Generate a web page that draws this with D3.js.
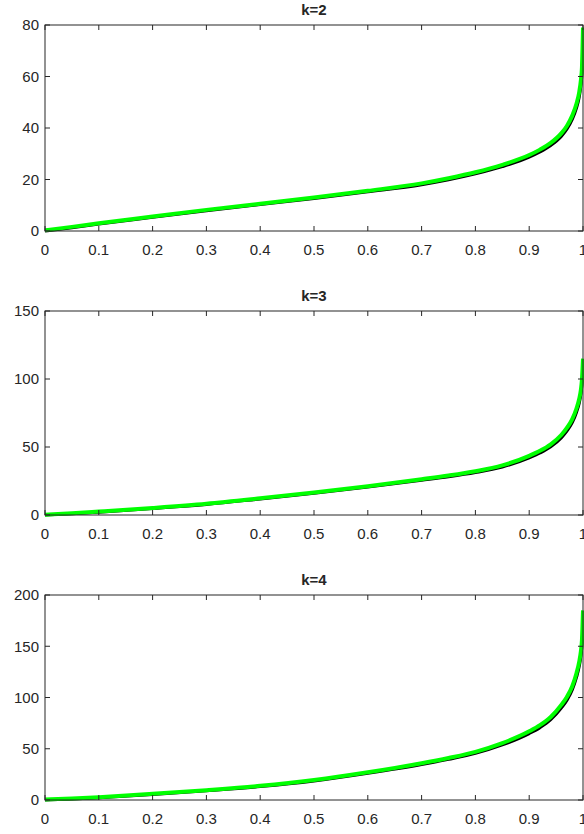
<!DOCTYPE html>
<html lang="en">

<head>
    <meta charset="UTF-8">
    <title>k=2, k=3, k=4</title>
    <script src="https://d3js.org/d3.v7.min.js"></script>
    <style>
        body {
            margin: 0;
            background: #fff;
        }

        text {
            font-family: "Liberation Sans", Arial, sans-serif;
            fill: #262626;
        }
    </style>
</head>

<body>
    <script>
        // x positions shared by all curves
        const xs = [0, 0.05, 0.1, 0.2, 0.3, 0.4, 0.5, 0.6, 0.7, 0.75, 0.8, 0.85, 0.9, 0.92, 0.94, 0.96, 0.97, 0.98, 0.988, 0.993, 0.996, 0.998, 1];

        // k=2
        const green2 = [0.3, 1.6, 3.0, 5.6, 8.2, 10.6, 13.0, 15.6, 18.5, 20.5, 22.8, 25.7, 29.5, 31.6, 34.2, 38.0, 40.8, 44.8, 49.5, 54.0, 58.5, 63.5, 79.0];
        const black2 = [0.0, 1.3, 2.7, 5.3, 7.9, 10.3, 12.6, 15.2, 18.0, 19.9, 22.2, 25.0, 28.7, 30.7, 33.2, 36.8, 39.5, 43.3, 47.8, 52.0, 56.3, 61.0, 72.0];
        // k=3
        const green3 = [0.2, 1.2, 2.5, 5.2, 8.3, 12.3, 16.6, 21.2, 26.3, 29.0, 32.2, 36.5, 43.5, 47.2, 52.0, 59.0, 64.0, 70.5, 78.5, 85.5, 92.0, 99.5, 115.0];
        const black3 = [0.0, 0.9, 2.1, 4.8, 7.8, 11.8, 16.0, 20.5, 25.5, 28.1, 31.2, 35.3, 42.0, 45.6, 50.2, 56.9, 61.7, 67.9, 75.6, 82.3, 88.5, 95.6, 108.0];
        // k=4
        const green4 = [0.5, 1.5, 2.8, 6.0, 9.6, 13.8, 19.5, 27.0, 35.8, 41.0, 47.0, 55.5, 67.0, 73.0, 81.0, 93.0, 100.5, 111.0, 124.0, 135.0, 145.0, 156.0, 185.0];
        const black4 = [0.0, 1.0, 2.3, 5.4, 9.0, 13.1, 18.6, 26.0, 34.6, 39.7, 45.5, 53.7, 64.8, 70.6, 78.3, 89.9, 97.2, 107.3, 119.8, 130.4, 140.0, 150.5, 172.0];

        const titles = ["k=2", "k=3", "k=4"];
        const yMax = [80, 150, 200];
        const yTicks = [[0, 20, 40, 60, 80], [0, 50, 100, 150], [0, 50, 100, 150, 200]];
        const xTicks = [0, 0.1, 0.2, 0.3, 0.4, 0.5, 0.6, 0.7, 0.8, 0.9, 1];
        const greens = [green2, green3, green4];
        const blacks = [black2, black3, black4];

        const W = 584, H = 834;
        const left = 45, right = 583;
        const panels = [
            { top: 25, bottom: 231 },
            { top: 311, bottom: 515 },
            { top: 595, bottom: 800 }
        ];

        const svg = d3.select("body")
            .append("svg")
            .attr("width", W)
            .attr("height", H);

        const x = d3.scaleLinear().domain([0, 1]).range([left, right]);
        const axisColor = "#262626";
        const tickLen = 5;

        panels.forEach((p, i) => {
            const y = d3.scaleLinear().domain([0, yMax[i]]).range([p.bottom, p.top]);
            const g = svg.append("g");

            const line = d3.line()
                .x((d, j) => x(xs[j]))
                .y(d => y(d))
                .curve(d3.curveMonotoneX);

            // black curve underneath, green on top
            g.append("path")
                .datum(blacks[i])
                .attr("fill", "none")
                .attr("stroke", "#000")
                .attr("stroke-width", 3)
                .attr("d", line);

            g.append("path")
                .datum(greens[i])
                .attr("fill", "none")
                .attr("stroke", "#00ff00")
                .attr("stroke-width", 4)
                .attr("d", line);

            // box
            g.append("rect")
                .attr("x", left)
                .attr("y", p.top)
                .attr("width", right - left)
                .attr("height", p.bottom - p.top)
                .attr("fill", "none")
                .attr("stroke", axisColor)
                .attr("stroke-width", 1);

            // x ticks, bottom and top, pointing inward
            xTicks.forEach(t => {
                g.append("line")
                    .attr("x1", x(t)).attr("x2", x(t))
                    .attr("y1", p.bottom).attr("y2", p.bottom - tickLen)
                    .attr("stroke", axisColor);
                g.append("line")
                    .attr("x1", x(t)).attr("x2", x(t))
                    .attr("y1", p.top).attr("y2", p.top + tickLen)
                    .attr("stroke", axisColor);
                g.append("text")
                    .attr("x", x(t))
                    .attr("y", p.bottom + 24)
                    .attr("text-anchor", "middle")
                    .attr("font-size", 15)
                    .text(t);
            });

            // y ticks, left and right
            yTicks[i].forEach(t => {
                g.append("line")
                    .attr("x1", left).attr("x2", left + tickLen)
                    .attr("y1", y(t)).attr("y2", y(t))
                    .attr("stroke", axisColor);
                g.append("line")
                    .attr("x1", right).attr("x2", right - tickLen)
                    .attr("y1", y(t)).attr("y2", y(t))
                    .attr("stroke", axisColor);
                g.append("text")
                    .attr("x", left - 6)
                    .attr("y", y(t))
                    .attr("dy", "0.35em")
                    .attr("text-anchor", "end")
                    .attr("font-size", 15)
                    .text(t);
            });

            g.append("text")
                .attr("x", (left + right) / 2)
                .attr("y", p.top - 10)
                .attr("text-anchor", "middle")
                .attr("font-size", 15)
                .attr("font-weight", "bold")
                .attr("fill", "#000")
                .text(titles[i]);
        });
    </script>
</body>

</html>
